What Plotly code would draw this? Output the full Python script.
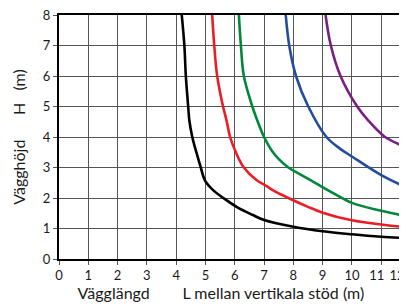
import plotly.graph_objects as go

# Curves: wall length L (m) vs wall height H (m)
black_L = [4.19, 4.28, 4.33, 4.41, 4.45, 4.55, 4.70, 4.84, 4.98, 5.27, 5.61, 6.06, 6.6, 7.0, 8.0, 9.0, 10.0, 11.0, 11.9]
black_H = [8.0, 7.0, 6.0, 5.0, 4.54, 4.0, 3.46, 3.0, 2.58, 2.25, 2.0, 1.71, 1.45, 1.28, 1.06, 0.91, 0.81, 0.73, 0.68]

red_L = [5.23, 5.30, 5.40, 5.60, 5.72, 5.84, 6.06, 6.31, 6.75, 7.09, 7.31, 7.83, 8.5, 9.0, 10.0, 11.0, 11.9]
red_H = [8.0, 7.0, 6.0, 5.0, 4.54, 4.0, 3.45, 3.0, 2.58, 2.39, 2.25, 2.0, 1.71, 1.52, 1.27, 1.13, 1.04]

green_L = [6.14, 6.21, 6.31, 6.60, 6.77, 7.0, 7.26, 7.54, 7.83, 8.28, 8.79, 9.25, 10.0, 11.0, 11.9]
green_H = [8.0, 7.0, 6.0, 5.0, 4.54, 4.0, 3.56, 3.24, 3.0, 2.75, 2.47, 2.22, 1.84, 1.58, 1.40]

blue_L = [7.74, 7.86, 8.09, 8.51, 9.13, 9.59, 10.0, 11.0, 11.9]
blue_H = [8.0, 7.0, 6.0, 5.0, 4.0, 3.62, 3.36, 2.75, 2.33]

purple_L = [9.10, 9.28, 9.61, 10.18, 10.56, 11.13, 11.75, 11.9]
purple_H = [8.0, 7.0, 6.0, 5.0, 4.54, 4.0, 3.70, 3.63]

grid_ticks = list(range(0, 12))
label_pos = [0, 1, 2, 3, 4, 5, 6, 7, 8, 9, 10, 10.85, 11.54]
label_text = ["0", "1", "2", "3", "4", "5", "6", "7", "8", "9", "10", "11", "12"]
y_ticks = list(range(0, 9))

NB = "\u00a0"
x_title = ("Vägglängd" + NB * 8 + "L mellan vertikala stöd (m)"
           + '<span style="color:rgba(0,0,0,0)">' + NB * 5 + ".</span>")
y_title = "Vägghöjd" + NB * 6 + "H" + NB * 3 + "(m)"

series = [
    (black_L, black_H, "#000000"),
    (red_L, red_H, "#ec1c24"),
    (green_L, green_H, "#00873c"),
    (blue_L, blue_H, "#244c9c"),
    (purple_L, purple_H, "#7a1e86"),
]

fig = go.Figure()
for L, H, c in series:
    fig.add_trace(go.Scatter(x=L, y=H, mode="lines", line=dict(color=c, width=2.6, shape="spline", smoothing=1.0),
                             hoverinfo="skip", showlegend=False))
# invisible trace to anchor the label axis
fig.add_trace(go.Scatter(x=black_L, y=black_H, xaxis="x2", mode="lines", opacity=0,
                         hoverinfo="skip", showlegend=False))

font = dict(family="Lato", size=13, color="#1a1a1a")
tfont = dict(family="Lato", size=16, color="#1a1a1a")
XMAX = 11.88
# page body has an 8px margin, so the figure is sized/offset to compensate
fig.update_layout(
    width=399, height=300,
    margin=dict(l=51, r=0, t=7, b=49),
    plot_bgcolor="white", paper_bgcolor="white",
    font=font,
    xaxis=dict(range=[0, XMAX], tickvals=grid_ticks, showticklabels=False, automargin=False,
               showgrid=True, gridcolor="#555555", gridwidth=1,
               ticks="outside", ticklen=4, tickcolor="#555555",
               showline=True, linecolor="black", linewidth=2, mirror=True, zeroline=False),
    xaxis2=dict(overlaying="x", anchor="y", side="bottom", range=[0, XMAX], automargin=False,
                tickvals=label_pos, ticktext=label_text, showgrid=False, zeroline=False,
                ticks="outside", ticklen=4, tickcolor="rgba(0,0,0,0)", showline=False, tickfont=font,
                ticklabeloverflow="allow",
                title=dict(text=x_title, font=tfont, standoff=3)),
    yaxis=dict(range=[0, 8], tickvals=y_ticks, showgrid=True, gridcolor="#555555", gridwidth=1,
               automargin=False, ticklabeloverflow="allow",
               ticks="outside", ticklen=4, tickcolor="#555555",
               showline=True, linecolor="black", linewidth=2, zeroline=False,
               tickfont=font,
               title=dict(text=y_title, font=tfont, standoff=13)),
)

fig.write_html("out.html")
